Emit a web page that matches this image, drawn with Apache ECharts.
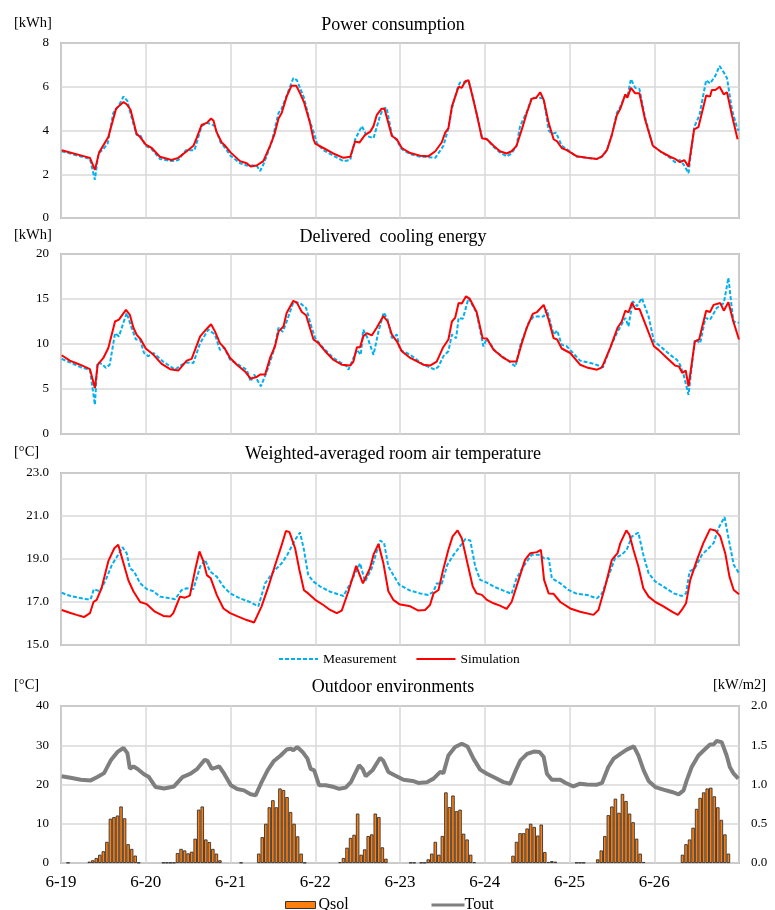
<!DOCTYPE html>
<html><head><meta charset="utf-8">
<script src="https://cdn.jsdelivr.net/npm/echarts@6/dist/echarts.min.js"></script>
<style>html,body{margin:0;padding:0;background:#fff}#c{width:775px;height:910px}</style>
</head><body><div id="c"></div>
<script>
// x = hours since 6-19 00:00
var dayLabels = ['6-19','6-20','6-21','6-22','6-23','6-24','6-25','6-26'];
var titles = ['Power consumption','Delivered  cooling energy','Weighted-averaged room air temperature','Outdoor environments'];

var powerSim = [[0.2,3.1],[8.2,2.75],[9.6,2.2],[10.8,3.0],[13.4,3.7],[15.6,5.0],[17.7,5.3],[18.6,5.2],[19.7,4.95],[21.4,3.85],[22.4,3.7],[24,3.35],[25.7,3.2],[28,2.8],[31.3,2.65],[33.2,2.75],[35.6,3.05],[37.5,3.3],[38.4,3.65],[39.8,4.25],[41.3,4.35],[42.5,4.55],[43.2,4.45],[44,3.95],[45.5,3.45],[46.5,3.3],[48,3.0],[50.7,2.6],[52.6,2.5],[53.7,2.35],[55.4,2.4],[57.3,2.6],[59.2,3.3],[60.4,3.8],[61.6,4.55],[62.5,4.8],[63.9,5.55],[65.3,6.05],[66.6,6.05],[67.7,5.7],[68.8,5.3],[70.5,4.35],[71.5,3.6],[72,3.4],[74.3,3.2],[77.1,2.95],[80,2.75],[81.9,2.8],[83.3,3.5],[84.5,3.45],[86.1,3.8],[87.6,3.95],[88.5,4.2],[89.4,4.7],[90.8,5.0],[91.6,5.0],[93.7,3.75],[95.1,3.6],[96.5,3.2],[98.9,2.97],[101.7,2.85],[104,2.82],[106,3.05],[107.8,3.45],[108.8,3.9],[109.7,4.1],[110.7,5.1],[112.6,6.0],[113.5,5.95],[114.5,6.25],[115.4,6.3],[116.4,5.65],[117.8,4.7],[119.2,3.65],[120.6,3.6],[122.5,3.3],[124.3,3.05],[126.2,2.95],[127.6,3.05],[129,3.3],[130.5,4.05],[131.9,4.8],[133.3,5.45],[134.6,5.5],[135.7,5.75],[136.7,5.4],[138.1,4.35],[139.5,3.6],[140.5,3.5],[141.8,3.2],[143.2,3.1],[146.1,2.82],[148.9,2.75],[151.8,2.7],[153.2,2.82],[154.6,3.1],[156,3.8],[157.4,4.7],[158.4,5.0],[159.8,5.65],[160.4,5.5],[161.4,5.95],[162.6,5.7],[163.8,5.7],[165.4,4.5],[167.6,3.3],[169.7,3.05],[172.5,2.8],[173.9,2.7],[175.3,2.55],[176.5,2.65],[177.7,2.35],[179.3,4.05],[180.5,4.15],[182.7,5.6],[183.8,5.55],[184.3,5.85],[185.3,5.85],[186.5,6.0],[187.7,5.65],[188.6,5.75],[190,4.7],[191.6,3.6]];
var powerMeas = [[0.2,3.05],[8.2,2.7],[9.6,1.75],[10.6,2.95],[12,3.15],[13.2,3.4],[14.8,4.8],[16.2,5.1],[17.7,5.55],[18.8,5.35],[19.8,4.7],[21.4,3.8],[22.4,3.8],[24,3.3],[25.7,3.15],[28,2.7],[31.3,2.6],[33.2,2.65],[35.4,3.1],[37.8,3.1],[39.8,4.2],[41.3,4.35],[42.5,4.3],[43.5,4.2],[45.2,3.45],[46.5,3.2],[48,2.85],[50.7,2.5],[52.6,2.4],[55.4,2.4],[56.4,2.15],[57.6,2.55],[59.7,3.5],[61.6,4.8],[62.5,5.0],[63.9,5.6],[65.8,6.4],[66.8,6.3],[68.8,5.5],[70.5,4.4],[71.5,3.95],[72.5,3.4],[74.3,3.1],[77.1,2.85],[80,2.6],[81.9,2.65],[83.3,3.6],[85.2,4.2],[86.6,3.75],[88.5,3.65],[90.4,4.7],[91.3,5.0],[92.2,5.05],[93.7,3.8],[95.1,3.55],[96.5,3.15],[98.9,2.92],[101.7,2.8],[104,2.78],[106,2.75],[108.3,3.3],[109.7,4.1],[110.7,5.0],[112.2,5.9],[113,6.2],[114.5,6.2],[115.4,6.25],[116.4,5.7],[117.8,4.7],[119.2,3.7],[120.6,3.6],[122.5,3.25],[124.3,3.0],[126.2,2.82],[127.6,2.95],[129,3.3],[130,4.2],[131.9,4.85],[133.3,5.5],[135.5,5.5],[136.7,5.45],[138.1,4.0],[139,3.85],[140.2,3.9],[141.8,3.3],[143.2,3.15],[146.1,2.8],[148.9,2.75],[151.8,2.7],[153.2,2.8],[154.6,3.1],[156,3.8],[157.4,4.8],[158.4,5.1],[159.8,5.6],[160.4,5.55],[161.4,6.35],[162.6,5.95],[163.8,5.9],[165.4,4.6],[167.6,3.3],[169.7,3.05],[172.5,2.75],[173.9,2.55],[175.3,2.65],[176.5,2.4],[177.7,2.05],[179.3,4.15],[180.8,4.7],[182.7,6.3],[183.8,6.15],[185.3,6.5],[186.5,6.95],[187.7,6.65],[188.6,6.4],[190,4.95],[191.6,4.05],[192,4.0]];

var coolSim = [[0.2,8.75],[2.5,8.15],[5.4,7.7],[8.2,7.2],[9.6,5.1],[10.4,7.7],[12,8.45],[13.4,9.55],[15.3,12.5],[16.4,12.7],[18.4,13.8],[19.5,13.25],[20.5,11.8],[21.4,11.05],[22.6,10.5],[24,9.5],[26.2,8.8],[28.5,7.8],[30.9,7.2],[33.2,7.05],[35.6,8.15],[37,8.35],[39.4,10.85],[41.3,11.7],[42.5,12.2],[43.6,11.4],[45,10.1],[46.2,9.6],[47.9,8.45],[49.8,7.7],[52.1,6.95],[53.7,6.15],[55.2,6.3],[56.4,6.6],[57.8,6.6],[59.2,8.45],[60.6,9.75],[61.6,11.4],[63,11.95],[63.9,13.45],[65.8,14.8],[66.8,14.6],[68.2,13.55],[69.4,13.2],[71.5,10.5],[72.9,10.1],[74.8,9.2],[77.1,8.25],[79.5,7.7],[81.9,7.6],[82.8,8.05],[83.8,9.65],[84.7,9.65],[85.6,10.85],[86.6,11.2],[88,10.95],[89.4,11.8],[91.3,13.1],[92.5,12.5],[93.7,11.05],[95.1,10.3],[96.5,9.2],[98.9,8.45],[102.6,7.7],[104.5,7.6],[106.4,8.05],[108.1,9.55],[109.7,10.5],[110.7,12.5],[111.6,12.9],[112.6,14.55],[113.5,14.5],[114.7,15.3],[115.7,15.05],[117.7,13.55],[119.4,10.65],[120.6,10.6],[122.5,9.35],[125.3,8.45],[127.2,8.05],[129,8.05],[130.5,10.1],[131.9,11.8],[133.6,13.35],[134.8,13.55],[136.7,14.35],[138.1,12.7],[139.5,10.65],[140.5,10.5],[141.8,9.5],[144.2,9.0],[147,7.7],[148.9,7.4],[151.8,7.15],[153.2,7.4],[155.5,9.55],[157.6,11.8],[158.8,12.5],[159.8,13.7],[160.7,13.5],[161.7,14.6],[162.6,13.9],[163.8,13.9],[165.9,11.8],[167.9,9.75],[169.2,9.35],[171.6,8.45],[173.9,7.6],[175,7.5],[175.9,6.8],[176.9,7.05],[177.7,5.3],[179.5,10.3],[180.7,10.5],[182.7,13.7],[183.8,13.55],[184.8,14.35],[186.7,14.55],[187.7,13.7],[189,14.65],[190.4,12.5],[192,10.5]];
var coolMeas = [[0.2,8.35],[2.5,7.95],[5.4,7.45],[8.2,7.1],[9.6,3.25],[10.3,7.9],[11.6,7.8],[12.7,7.35],[13.8,7.7],[15.3,11.2],[16.4,10.85],[17.8,12.5],[18.6,13.45],[20,11.8],[21.2,10.5],[22.4,10.5],[23.5,9.0],[24.7,8.65],[26.2,9.0],[28.9,8.05],[32.3,7.15],[34.2,7.7],[35.6,7.95],[37.5,7.9],[39.4,10.1],[41.7,11.6],[43.6,11.05],[45,9.35],[46.2,9.6],[47.9,8.25],[52.6,7.15],[53.7,5.85],[54.7,6.6],[56.6,5.3],[58.3,6.95],[60.2,9.2],[61.6,11.8],[62.8,11.35],[64.1,12.7],[65.8,14.65],[67.7,14.55],[69.4,14.0],[71,11.8],[72,10.65],[74.3,9.55],[77.1,8.45],[80.9,7.5],[81.4,7.15],[83.8,9.35],[84.9,8.8],[85.6,11.6],[87,10.5],[88.5,8.8],[89.9,11.4],[91.4,13.5],[92.5,12.7],[93.7,10.65],[95.1,11.05],[96,9.35],[98.9,8.8],[102.6,7.7],[105.9,7.15],[106.9,7.5],[108.3,8.65],[109.7,9.2],[110.7,11.05],[111.9,10.65],[112.6,12.9],[113.8,12.8],[115.4,15.1],[117.7,13.45],[119.6,9.75],[120.6,10.6],[123,9.2],[126.3,8.25],[128.7,7.5],[130.1,9.9],[132.4,12.35],[133.8,13.05],[135.2,13.05],[136.7,13.05],[137.6,13.8],[139.5,11.05],[140.5,11.5],[141.8,9.9],[143.2,9.75],[147,8.15],[150.9,7.8],[153.5,7.4],[155.5,9.55],[157.4,11.2],[159.8,12.9],[160.7,11.95],[161.9,14.75],[163.1,14.2],[164.5,15.1],[166.4,13.05],[167.9,10.3],[169.7,9.75],[172.5,8.8],[174.4,8.25],[175.3,7.7],[176.3,6.6],[177.7,4.35],[179.5,10.5],[181,10.1],[182.5,12.9],[183.8,12.7],[185.7,14.0],[187.7,14.55],[189,17.35],[190.4,12.5],[192,12.35]];

var roomSim = [[0.2,16.63],[2.5,16.5],[4.4,16.4],[6.5,16.3],[8.2,16.48],[9.2,17.0],[10.1,17.1],[11.5,17.65],[13.4,18.9],[15.1,19.5],[16.2,19.66],[17.7,18.8],[19.1,18.0],[20.5,17.5],[22.4,17.0],[24.3,16.9],[26.6,16.55],[29,16.35],[30.9,16.32],[31.8,16.48],[33.7,17.25],[35.1,17.2],[36.5,17.3],[38,18.5],[39.2,19.35],[40.3,18.9],[41.3,18.25],[42.4,18.1],[44.1,17.33],[46,16.7],[47.9,16.48],[50.2,16.32],[52.6,16.16],[54.7,16.05],[56.8,16.8],[58.7,17.7],[60.6,18.7],[62.3,19.55],[63.7,20.3],[64.7,20.25],[66.3,19.5],[67.5,18.5],[68.8,17.55],[70,17.4],[72,17.1],[74.3,16.86],[76.2,16.63],[78.1,16.48],[79.5,16.6],[81.4,17.5],[83.6,18.68],[85.5,17.87],[87.5,18.57],[88.5,19.2],[89.9,19.7],[91.3,18.8],[92.7,17.5],[94.1,17.1],[95.8,16.9],[98.9,16.8],[101.2,16.6],[103.1,16.63],[104.5,16.86],[105.5,17.4],[106.9,17.56],[108.1,18.42],[109.7,19.43],[110.9,20.05],[112.3,20.33],[113.5,19.97],[115.1,18.8],[116.6,17.72],[117.7,17.4],[119.2,17.33],[120.6,17.1],[122.5,16.94],[124.3,16.83],[126.2,16.68],[127.6,17.0],[129.6,18.03],[131.4,18.96],[132.9,19.27],[134.8,19.32],[135.9,19.43],[136.8,18.03],[138.1,17.4],[139.5,17.38],[141.4,17.0],[144.2,16.7],[147,16.55],[150.8,16.4],[152.2,16.63],[154.1,17.72],[156,18.96],[157.6,19.27],[158.4,19.74],[160.1,20.33],[161,20.12],[162.1,19.43],[163.5,18.65],[164.9,17.64],[166.4,17.25],[168.3,17.0],[170.6,16.8],[173,16.55],[174.7,16.4],[175.8,16.63],[177,16.94],[178.2,18.03],[180.1,18.96],[181.9,19.74],[183.8,20.39],[185.3,20.33],[186.7,20.05],[188.1,19.27],[189.3,18.18],[190.5,17.56],[192,17.36]];
var roomMeas = [[0.2,17.44],[1.6,17.33],[4.4,17.22],[7.3,17.13],[8.4,17.13],[9.3,17.6],[11,17.5],[12.7,18.03],[14.4,18.73],[16.2,19.2],[17.4,19.55],[18.6,19.27],[19.5,18.57],[20.7,18.42],[22.4,17.87],[24.3,17.6],[26.2,17.5],[28,17.25],[32.3,17.13],[34.2,17.56],[35.6,17.64],[37.5,17.6],[39.4,18.65],[40.8,18.96],[42.2,18.42],[44.1,18.18],[46,17.72],[47.9,17.4],[50.7,17.17],[53.5,17.0],[55.9,16.8],[57.8,17.87],[60.2,18.42],[62.5,18.8],[64.1,19.2],[65.3,19.58],[66.3,19.9],[67.7,20.23],[68.8,19.43],[70,18.26],[71.5,17.95],[73.4,17.72],[76.2,17.48],[79,17.33],[80,17.28],[81.9,17.87],[83.3,18.34],[84.7,18.8],[86.1,17.95],[88,18.57],[89.4,19.35],[90.4,19.86],[91.5,19.74],[92.7,18.65],[94.1,18.26],[95.8,17.8],[98.9,17.53],[101.7,17.4],[104,17.33],[105.5,17.48],[106.4,17.87],[107.8,17.84],[109.4,18.73],[111.2,19.2],[113.1,19.61],[114.5,19.92],[115.9,19.86],[117.3,18.65],[118.7,18.03],[120.6,17.9],[122.9,17.69],[125.3,17.53],[127.6,17.38],[129,18.1],[130.9,18.65],[133.3,19.2],[135.2,19.2],[136.8,19.04],[138.1,19.04],[139,18.1],[141.4,17.87],[143.7,17.56],[146.1,17.38],[148.9,17.33],[151.8,17.17],[153.2,17.4],[155,18.18],[156.9,19.04],[158.8,19.2],[160.2,19.43],[161.7,20.05],[163.5,20.23],[164.9,19.2],[166.4,18.34],[168.3,17.95],[170.6,17.72],[173.5,17.4],[175.8,17.28],[177,17.4],[178,18.42],[179.5,18.57],[181.5,19.2],[183.4,19.5],[184.8,19.74],[186.2,20.44],[187.9,20.95],[189.3,19.74],[190.5,18.73],[192,18.34]];

var tout = [[0.2,22.1],[2.7,21.7],[5.6,21.2],[8.4,21.05],[10.3,21.9],[12.2,22.9],[14.1,26.15],[16,28.3],[17.7,29.3],[18.8,28.0],[19.5,24.0],[20.5,24.6],[21.6,24.0],[23.5,22.6],[24.9,21.9],[26.8,19.35],[29.2,19.0],[32,19.5],[34.4,21.9],[36.7,22.75],[38.6,24.0],[40.7,26.3],[41.5,26.0],[42.7,24.0],[43.8,24.3],[44.8,24.6],[46.2,22.75],[48.1,19.8],[49.9,18.85],[51.8,18.5],[53.7,17.5],[55.1,17.25],[56.6,20.2],[58.5,23.6],[60.3,26.0],[62.2,27.4],[63.9,28.9],[65.1,29.1],[65.8,28.7],[66.9,29.55],[68.4,28.3],[69.8,26.6],[70.7,24.0],[71.7,23.6],[73.1,19.8],[75,19.8],[77.3,19.35],[78.8,18.9],[80.6,19.2],[82.1,20.6],[84.4,24.9],[85.4,24.0],[86.3,22.1],[88.2,23.6],[90.4,26.8],[91.3,26.0],[92.7,23.2],[94.6,22.3],[97,21.2],[99.6,20.9],[101.2,20.4],[103.6,20.6],[105.5,21.5],[107.4,23.2],[108.3,22.9],[109.7,27.4],[111.6,29.55],[113.5,30.4],[115.1,29.7],[116.8,26.6],[118.7,23.8],[120.6,22.75],[122.9,21.7],[125.3,20.6],[127.2,20.2],[128.6,23.2],[130.1,26.15],[132,27.8],[133.9,28.4],[135.5,28.3],[136.7,27.0],[137.6,22.75],[139,21.2],[141.4,21.2],[142.8,20.45],[145.1,19.5],[147,20.2],[148.9,20.0],[151.8,19.95],[153.2,20.4],[155,24.45],[156.5,26.6],[158.4,27.8],[160.2,28.9],[162.2,29.7],[163.5,27.4],[165,23.6],[166.4,20.9],[168.3,19.35],[170.6,18.7],[173,18.1],[174.9,17.5],[176.3,18.5],[177.2,21.05],[178.6,24.45],[180.5,27.4],[182.5,29.1],[183.8,30.2],[184.8,30.2],[185.7,31.1],[187.1,30.8],[188.5,27.4],[189.4,24.45],[190.5,22.75],[191.8,21.5]];

var qsol = [[2,0.005],[8,0.017],[9,0.035],[10,0.064],[11,0.106],[12,0.15],[13,0.27],[14,0.565],[15,0.585],[16,0.605],[17,0.72],[18,0.57],[19,0.24],[20,0.18],[21,0.095],[22,0.005],
[29,0.005],[30,0.005],[31,0.005],[32,0.005],[33,0.127],[34,0.18],[35,0.16],[36,0.123],[37,0.144],[38,0.31],[39,0.68],[40,0.72],[41,0.3],[42,0.267],[43,0.18],[44,0.12],[45,0.035],
[51,0.005],[56,0.12],[57,0.33],[58,0.5],[59,0.71],[60,0.8],[61,0.71],[62,0.95],[63,0.93],[64,0.84],[65,0.65],[66,0.5],[67,0.34],[68,0.12],[69,0.005],
[79,0.01],[80,0.064],[81,0.195],[82,0.32],[83,0.36],[84,0.63],[85,0.106],[86,0.174],[87,0.344],[88,0.365],[89,0.63],[90,0.585],[91,0.2],[92,0.055],
[99,0.005],[100,0.005],[102,0.005],[103,0.005],[104,0.047],[105,0.12],[106,0.27],[107,0.106],[108,0.345],[109,0.9],[110,0.713],[111,0.86],[112,0.66],[113,0.68],[114,0.374],[115,0.3],[116,0.106],[117,0.01],
[128,0.093],[129,0.27],[130,0.38],[131,0.38],[132,0.44],[133,0.5],[134,0.46],[135,0.35],[136,0.49],[137,0.14],[138,0.013],[139,0.025],[140,0.017],
[146,0.005],[147,0.005],[148,0.005],[152,0.047],[153,0.16],[154,0.344],[155,0.61],[156,0.72],[157,0.82],[158,0.64],[159,0.88],[160,0.79],[161,0.63],[162,0.52],[163,0.31],[164,0.12],[165,0.013],
[176,0.106],[177,0.24],[178,0.3],[179,0.45],[180,0.69],[181,0.83],[182,0.9],[183,0.95],[184,0.96],[185,0.85],[186,0.71],[187,0.55],[188,0.365],[189,0.12]];

var FONT = '"Liberation Serif","Times New Roman",serif';
var chart = echarts.init(document.getElementById('c'), null, {renderer:'canvas'});
var gridBoxes = [{top:43,height:175},{top:254,height:180},{top:473,height:172},{top:706,height:157}];
var grids = gridBoxes.map(function(g){return {left:61,width:678,top:g.top,height:g.height,show:true,borderColor:'#878787',borderWidth:1.5,containLabel:false};});
var xAxes = [0,1,2,3].map(function(i){return {
  type:'value',gridIndex:i,min:0,max:192,interval:24,
  axisLine:{show:false},axisTick:{show:false},
  splitLine:{show:true,lineStyle:{color:'#d9d9d9',width:1.5}},
  axisLabel:{show:i===3,margin:11,color:'#000',fontFamily:FONT,fontSize:17,
    formatter:function(v){var k=Math.round(v/24);return k<dayLabels.length?dayLabels[k]:'';}}
};});
function yAx(gi,min,max,iv,dec,pos,split){
  return {type:'value',gridIndex:gi,min:min,max:max,interval:iv,position:pos||'left',
    axisLine:{show:false},axisTick:{show:false},
    splitLine:{show:split!==false,lineStyle:{color:'#d9d9d9',width:1.5}},
    axisLabel:{margin:12,color:'#000',fontFamily:FONT,fontSize:13,formatter:function(v){return dec?v.toFixed(dec):String(v);}}};
}
var yAxes = [yAx(0,0,8,2,0),yAx(1,0,20,5,0),yAx(2,15,23,2,1),yAx(3,0,40,10,0),yAx(3,0,2,0.5,1,'right',false)];
function measS(i,d){return {name:'Measurement',type:'line',xAxisIndex:i,yAxisIndex:i,data:d,symbol:'none',showSymbol:false,
  lineStyle:{color:'#00B0F0',width:2,type:[4,2]},itemStyle:{color:'#00B0F0'},z:2};}
function simS(i,d){return {name:'Simulation',type:'line',xAxisIndex:i,yAxisIndex:i,data:d,symbol:'none',showSymbol:false,
  lineStyle:{color:'#FF0000',width:2},itemStyle:{color:'#FF0000'},z:3};}
var series = [measS(0,powerMeas),simS(0,powerSim),measS(1,coolMeas),simS(1,coolSim),measS(2,roomMeas),simS(2,roomSim),
  {name:'Qsol',type:'bar',xAxisIndex:3,yAxisIndex:4,data:qsol,barWidth:3.5,
    itemStyle:{color:'#FF7F0E',borderColor:'#333333',borderWidth:0.9},z:2},
  {name:'Tout',type:'line',xAxisIndex:3,yAxisIndex:3,data:tout,symbol:'none',showSymbol:false,
    lineStyle:{color:'#7F7F7F',width:4},itemStyle:{color:'#7F7F7F'},z:3}];
function txt(t,x,y,size,align){return {type:'text',x:x,y:y,style:{text:t,font:size+'px '+FONT,fill:'#000',
  textAlign:align||'center',textVerticalAlign:'middle',align:align||'center',verticalAlign:'middle'}};}
var graphics = [
  txt(titles[0],393,25,18),txt(titles[1],393,237,18),txt(titles[2],393,454,18),txt(titles[3],393,687,18),
  txt('[kWh]',14,23,14.5,'left'),txt('[kWh]',14,235,14.5,'left'),txt('[\u00B0C]',14,452,14.5,'left'),
  txt('[\u00B0C]',14,685,14.5,'left'),txt('[kW/m2]',713,685,14.5,'left')
];
chart.setOption({
  animation:false,
  backgroundColor:'#fff',
  grid:grids,xAxis:xAxes,yAxis:yAxes,series:series,graphic:graphics,
  legend:[
    {data:['Measurement','Simulation'],left:273,top:647,itemWidth:39,itemHeight:14,itemGap:19,
      itemStyle:{opacity:0},lineStyle:{width:2},
      textStyle:{fontFamily:FONT,fontSize:13.5,color:'#000'}},
    {data:['Qsol'],left:280,top:892,itemWidth:30,itemHeight:7,icon:'rect',
      itemStyle:{borderColor:'#333333',borderWidth:1},
      textStyle:{fontFamily:FONT,fontSize:16,color:'#000',padding:[0,0,0,-2]}},
    {data:['Tout'],left:425,top:892,itemWidth:33,itemHeight:14,
      itemStyle:{opacity:0},lineStyle:{width:3},
      textStyle:{fontFamily:FONT,fontSize:16,color:'#000',padding:[0,0,0,-5]}}
  ]
});
</script></body></html>
